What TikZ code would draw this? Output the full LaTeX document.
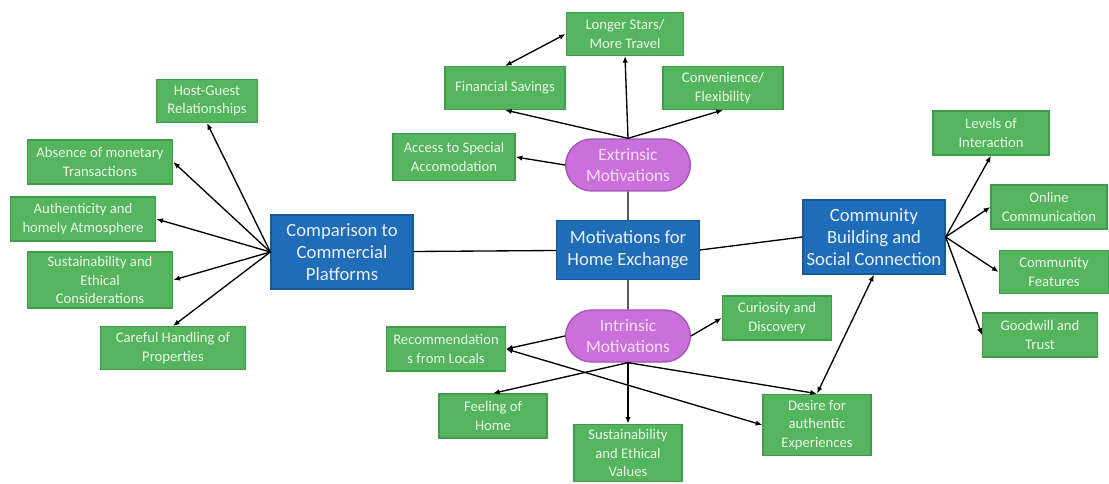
\documentclass[tikz,border=0pt]{standalone}
\usepackage{fontspec}
\setmainfont{Carlito}
\usetikzlibrary{arrows.meta, shapes.misc}
\definecolor{cgreen}{HTML}{55B55E}
\definecolor{cgreenline}{HTML}{3F9D49}
\definecolor{cgreentext}{HTML}{EAF8E6}
\definecolor{cblue}{HTML}{1F6CB8}
\definecolor{cblueline}{HTML}{175A9C}
\definecolor{cbluetext}{HTML}{E8F0FA}
\definecolor{cpurple}{HTML}{C970DA}
\definecolor{cpurpleline}{HTML}{A552BD}
\definecolor{cpurpletext}{HTML}{F8DDFB}
\tikzset{
  every picture/.style={line width=1pt},
  leaf/.style 2 args={draw=cgreenline, fill=cgreen, text=cgreentext, align=center, inner sep=2pt,
    minimum width=#1, minimum height=#2, font=\fontsize{11}{14}\selectfont},
  hub/.style 2 args={draw=cblueline, fill=cblue, text=cbluetext, align=center, inner sep=2pt,
    minimum width=#1, minimum height=#2, font=\fontsize{14}{16.5}\selectfont},
  pill/.style={rounded rectangle, draw=cpurpleline, fill=cpurple, text=cpurpletext, align=center,
    inner sep=2pt, minimum width=97.5pt, minimum height=39pt, font=\fontsize{13}{16}\selectfont},
  arrow/.style={-{Latex[length=5pt, width=4pt]}, draw=black},
  twoway/.style={{Latex[length=5pt, width=4pt]}-{Latex[length=5pt, width=4pt]}, draw=black},
  link/.style={draw=black},
}
\begin{document}
\begin{tikzpicture}[x=0.75pt, y=-0.75pt]
  \useasboundingbox (0,0) rectangle (1109,484);
  % centre
  \node[hub={107pt}{44pt}] (mot) at (628,250) {Motivations for\\Home Exchange};
  \node[pill] (ext) at (628,165) {Extrinsic\\Motivations};
  \node[pill] (int) at (628,336) {Intrinsic\\Motivations};
  \node[hub={106.5pt}{55.5pt}] (cmp) at (342,252) {Comparison to\\Commercial\\Platforms};
  \node[hub={106.5pt}{55.5pt}] (comm) at (874,237) {Community\\Building and\\Social Connection};
  % extrinsic
  \node[leaf={88pt}{32pt}] (lsm) at (625,34) {Longer Stars/\\More Travel};
  \node[leaf={90pt}{32pt}] (fs) at (505,88) {Financial Savings};
  \node[leaf={90pt}{32pt}] (conv) at (723,88) {Convenience/\\Flexibility};
  \node[leaf={91.5pt}{35pt}] (acc) at (454,157) {Access to Special\\Accomodation};
  % comparison
  \node[leaf={76pt}{32pt}] (hg) at (207,101) {Host-Guest\\Relationships};
  \node[leaf={109pt}{33pt}] (abs) at (100,162) {Absence of monetary\\Transactions};
  \node[leaf={109pt}{33pt}] (auth) at (83,219) {Authenticity and\\homely Atmosphere};
  \node[leaf={109pt}{42pt}] (sec) at (100,280) {Sustainability and\\Ethical\\Considerations};
  \node[leaf={109pt}{32pt}] (care) at (173,348) {Careful Handling of\\Properties};
  % community
  \node[leaf={87pt}{33pt}] (lev) at (991,133) {Levels of\\Interaction};
  \node[leaf={87pt}{33pt}] (onl) at (1049,207) {Online\\Communication};
  \node[leaf={82pt}{32pt}] (feat) at (1054,272) {Community\\Features};
  \node[leaf={86pt}{33pt}] (good) at (1040,335) {Goodwill and\\Trust};
  % intrinsic
  \node[leaf={82pt}{33pt}] (cur) at (777,318) {Curiosity and\\Discovery};
  \node[leaf={89pt}{33pt}] (rec) at (446,349) {Recommendation\\s from Locals};
  \node[leaf={81pt}{33pt}] (feel) at (493,416) {Feeling of\\Home};
  \node[leaf={81pt}{43pt}] (sev) at (628,453) {Sustainability\\and Ethical\\Values};
  \node[leaf={81pt}{46pt}] (des) at (817,425) {Desire for\\authentic\\Experiences};

  \draw[link] (ext) -- (mot);
  \draw[link] (mot) -- (int);
  \draw[link] (mot) -- (cmp);
  \draw[link] (mot.east) -- (comm.west);

  \draw[arrow] (ext.north) -- (lsm.south);
  \draw[arrow] (ext.north) -- (fs.south);
  \draw[arrow] (ext.north) -- (conv.south);
  \draw[arrow] (ext.west) -- (acc.east);
  \draw[twoway] (fs.north) -- (lsm.west);

  \foreach \tgt/\anc in {hg/south, abs/east, auth/east, sec/east, care/north}
    \draw[arrow] (cmp.west) -- (\tgt.\anc);

  \draw[arrow] (comm.east) -- (lev.south);
  \foreach \tgt in {onl, feat, good}
    \draw[arrow] (comm.east) -- (\tgt.west);

  \draw[arrow] (int.east) -- (cur.west);
  \draw[arrow] (int.west) -- (rec.east);
  \foreach \tgt in {feel, sev, des}
    \draw[arrow] (int.south) -- (\tgt.north);
  \draw[twoway] (rec.east) -- (des.west);
  \draw[twoway] (des.north) -- (comm.south);
\end{tikzpicture}
\end{document}
